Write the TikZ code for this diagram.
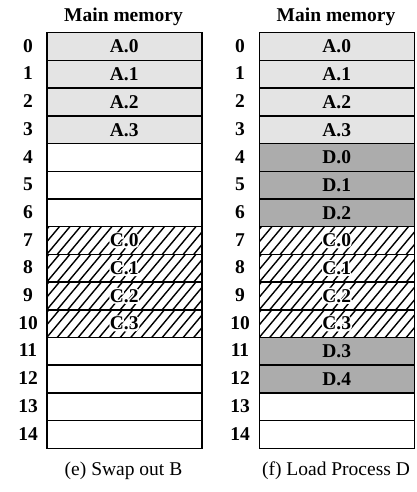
\documentclass[tikz,border=0pt]{standalone}
\usepackage{fontspec}
\setmainfont{Liberation Serif}
\definecolor{agray}{HTML}{E4E4E4}
\definecolor{dgray}{HTML}{ACACAC}
\newcommand\halotext[1]{\rlap{\special{pdf:literal direct 1 1 1 RG 1 1 1 rg 3.2 w 1 j 2 Tr}#1\special{pdf:literal direct 0 Tr 0 0 0 RG 0 0 0 rg}}#1}
\tikzset{
  cell/.style={draw=black, line width=1.5pt, minimum width=155pt, minimum height=27.7pt,
    inner sep=0pt, font=\fontsize{19.5}{22}\selectfont\bfseries, anchor=north west},
  afill/.style={cell, fill=agray},
  dfill/.style={cell, fill=dgray},
  hatch/.style={cell, path picture={
      \foreach \i in {-3,...,16}{
        \draw[line width=1.4pt] ([xshift=\i*10.5pt]path picture bounding box.south west) -- ++(23.2pt,27.7pt);
      }}},
  idx/.style={font=\fontsize{19.5}{22}\selectfont\bfseries},
  title/.style={font=\fontsize{19.5}{22}\selectfont\bfseries},
  caption/.style={font=\fontsize{19.5}{22}\selectfont},
  ctext/.style={inner sep=0pt, font=\fontsize{19.5}{22}\selectfont\bfseries},
}
\begin{document}
\begin{tikzpicture}[x=1pt,y=-1pt]
\useasboundingbox (0,0) rectangle (417,492);
% left column
\node[title] (tl) at (123.5,17) {Main memory};
\foreach \r/\t/\s in {0/A.0/afill,1/A.1/afill,2/A.2/afill,3/A.3/afill,4//cell,5//cell,6//cell,
  7//hatch,8//hatch,9//hatch,10//hatch,11//cell,12//cell,13//cell,14//cell}{
  \node[\s] (L\r) at (46,32+\r*27.7) {\t};
  \node[idx] (Ln\r) at (28,32+\r*27.7+13.85) {\r};
}
\foreach \r/\t in {7/C.0,8/C.1,9/C.2,10/C.3}{
  \node[ctext] (Lc\r) at (L\r.center) {\halotext{\t}};
}
\node[caption] (cl) at (123.5,471) {(e) Swap out B};
% right column
\node[title] (tr) at (336,17) {Main memory};
\foreach \r/\t/\s in {0/A.0/afill,1/A.1/afill,2/A.2/afill,3/A.3/afill,4/D.0/dfill,5/D.1/dfill,6/D.2/dfill,
  7//hatch,8//hatch,9//hatch,10//hatch,11/D.3/dfill,12/D.4/dfill,13//cell,14//cell}{
  \node[\s] (R\r) at (258.5,32+\r*27.7) {\t};
  \node[idx] (Rn\r) at (240,32+\r*27.7+13.85) {\r};
}
\foreach \r/\t in {7/C.0,8/C.1,9/C.2,10/C.3}{
  \node[ctext] (Rc\r) at (R\r.center) {\halotext{\t}};
}
\node[caption] (cr) at (336,471) {(f) Load Process D};
\end{tikzpicture}
\end{document}
